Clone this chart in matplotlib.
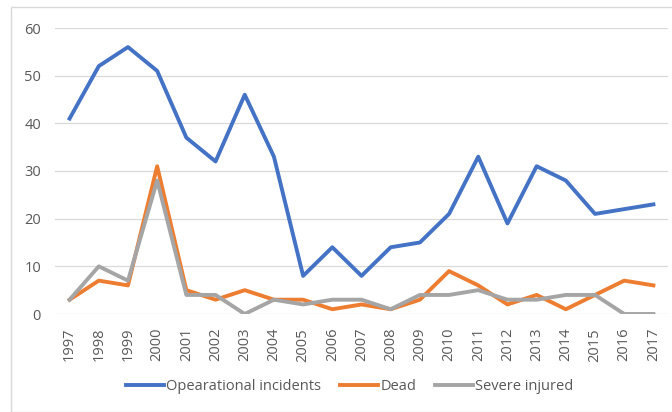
import matplotlib
matplotlib.use("Agg")
import matplotlib.pyplot as plt
from matplotlib.patches import Rectangle

years = [str(y) for y in range(1997, 2018)]
operational = [41, 52, 56, 51, 37, 32, 46, 33, 8, 14, 8, 14, 15, 21, 33, 19, 31, 28, 21, 22, 23]
dead = [3, 7, 6, 31, 5, 3, 5, 3, 3, 1, 2, 1, 3, 9, 6, 2, 4, 1, 4, 7, 6]
severe = [3, 10, 7, 28, 4, 4, 0, 3, 2, 3, 3, 1, 4, 4, 5, 3, 3, 4, 4, 0, 0]
yticks = [0, 10, 20, 30, 40, 50, 60]

plt.rcParams['font.family'] = ['Open Sans', 'DejaVu Sans']
W, H = 672, 412
fig = plt.figure(figsize=(W / 100, H / 100), dpi=100)
fig.patches.append(Rectangle((11 / W, 0.0), 1.2, 1 - 7 / H, transform=fig.transFigure,
                             fill=False, edgecolor='#d9d9d9', linewidth=1.0))

ax = fig.add_axes([55 / W, 1 - 314 / H, (668 - 55) / W, (314 - 28) / H])
x = list(range(len(years)))
ax.plot(x, operational, color='#4472C4', lw=2.8, label='Opearational incidents', solid_joinstyle='round')
ax.plot(x, dead, color='#ED7D31', lw=2.8, label='Dead', solid_joinstyle='round')
ax.plot(x, severe, color='#A5A5A5', lw=2.8, label='Severe injured', solid_joinstyle='round')

ax.set_xlim(-0.5, len(years) - 0.5)
ax.set_ylim(0, 60)
ax.set_yticks(yticks)
ax.set_xticks(x)
ax.set_xticklabels(years, rotation=90)
ax.grid(axis='y', color='#d9d9d9', lw=0.9)
ax.set_axisbelow(True)
for s in ax.spines.values():
    s.set_visible(False)
ax.tick_params(length=0, labelsize=10.5, labelcolor='#595959')
ax.tick_params(axis='y', pad=10)
ax.tick_params(axis='x', pad=10)

fig.legend(loc='center', bbox_to_anchor=(350 / W, 1 - 387 / H), ncol=3, frameon=False,
           fontsize=10.5, handlelength=2.6, handletextpad=0.15, columnspacing=1.3,
           labelcolor='#595959')

fig.savefig('out.png', dpi=100)
